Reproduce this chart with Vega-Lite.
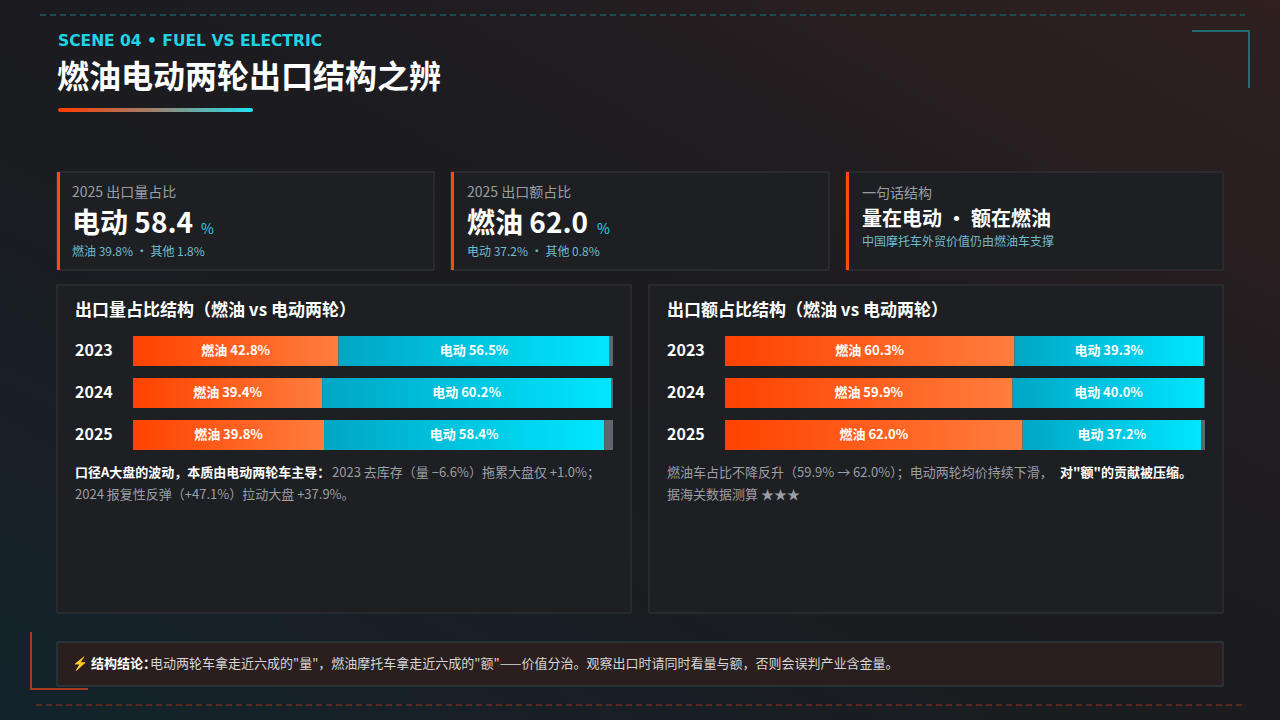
{
  "$schema": "https://vega.github.io/schema/vega-lite/v6.json",
  "width": 1280,
  "height": 720,
  "autosize": {"type": "fit", "contains": "padding"},
  "padding": 0,
  "background": "#1b1c20",
  "config": {"font": "Noto Sans CJK SC", "view": {"stroke": null}},
  "datasets": {
    "vol": [
      {"year": "2023", "type": "燃油", "value": 42.8, "label": "燃油 42.8%"},
      {"year": "2023", "type": "电动", "value": 56.5, "label": "电动 56.5%"},
      {"year": "2023", "type": "其他", "value": 0.7, "label": ""},
      {"year": "2024", "type": "燃油", "value": 39.4, "label": "燃油 39.4%"},
      {"year": "2024", "type": "电动", "value": 60.2, "label": "电动 60.2%"},
      {"year": "2024", "type": "其他", "value": 0.4, "label": ""},
      {"year": "2025", "type": "燃油", "value": 39.8, "label": "燃油 39.8%"},
      {"year": "2025", "type": "电动", "value": 58.4, "label": "电动 58.4%"},
      {"year": "2025", "type": "其他", "value": 1.8, "label": ""}
    ],
    "val": [
      {"year": "2023", "type": "燃油", "value": 60.3, "label": "燃油 60.3%"},
      {"year": "2023", "type": "电动", "value": 39.3, "label": "电动 39.3%"},
      {"year": "2023", "type": "其他", "value": 0.4, "label": ""},
      {"year": "2024", "type": "燃油", "value": 59.9, "label": "燃油 59.9%"},
      {"year": "2024", "type": "电动", "value": 40.0, "label": "电动 40.0%"},
      {"year": "2024", "type": "其他", "value": 0.1, "label": ""},
      {"year": "2025", "type": "燃油", "value": 62.0, "label": "燃油 62.0%"},
      {"year": "2025", "type": "电动", "value": 37.2, "label": "电动 37.2%"},
      {"year": "2025", "type": "其他", "value": 0.8, "label": ""}
    ]
  },
  "data": {"values": [{}]},
  "resolve": {"scale": {"x": "independent", "y": "independent"}},
  "layer": [
    {
      "mark": {"type": "rect", "x": 0, "x2": 1280, "y": 0, "y2": 720,
        "fill": {"gradient": "linear", "x1": 0, "y1": 1, "x2": 1, "y2": 0,
          "stops": [{"offset": 0, "color": "#13232b"}, {"offset": 0.42, "color": "#1b1c20"}, {"offset": 0.62, "color": "#1d1c20"}, {"offset": 1, "color": "#302020"}]}},
      "encoding": {}
    },
    {"mark": {"type": "rule", "stroke": "#1c5a62", "strokeWidth": 1.5, "strokeDash": [6, 4]},
     "encoding": {"x": {"value": 40}, "x2": {"value": 1245}, "y": {"value": 15}}},
    {"mark": {"type": "rule", "stroke": "#1f6c75", "strokeWidth": 2},
     "encoding": {"x": {"value": 1192}, "x2": {"value": 1249}, "y": {"value": 31}}},
    {"mark": {"type": "rule", "stroke": "#1f6c75", "strokeWidth": 2},
     "encoding": {"x": {"value": 1249}, "y": {"value": 30}, "y2": {"value": 88}}},
    {"mark": {"type": "rule", "stroke": "#a33b1e", "strokeWidth": 2},
     "encoding": {"x": {"value": 31}, "y": {"value": 632}, "y2": {"value": 690}}},
    {"mark": {"type": "rule", "stroke": "#a33b1e", "strokeWidth": 2},
     "encoding": {"x": {"value": 30}, "x2": {"value": 88}, "y": {"value": 689}}},
    {"mark": {"type": "rule", "stroke": "#6e2c1f", "strokeWidth": 1.5, "strokeDash": [6, 4]},
     "encoding": {"x": {"value": 36}, "x2": {"value": 1245}, "y": {"value": 705}}},
    {"mark": {"type": "text", "text": "SCENE 04 • FUEL VS ELECTRIC", "x": 58, "y": 41, "align": "left", "baseline": "middle",
      "font": "DejaVu Sans", "fontSize": 15.5, "fontWeight": "bold", "fill": "#22d3e6"}},
    {"mark": {"type": "text", "text": "燃油电动两轮出口结构之辨", "x": 57, "y": 78, "align": "left", "baseline": "middle",
      "fontSize": 32, "fontWeight": "bold", "fill": "#ffffff"}},
    {"mark": {"type": "rect", "x": 58, "x2": 253, "y": 108, "y2": 112, "cornerRadius": 2,
      "fill": {"gradient": "linear", "x1": 0, "y1": 0, "x2": 1, "y2": 0,
        "stops": [{"offset": 0, "color": "#ff3b00"}, {"offset": 0.5, "color": "#9c8370"}, {"offset": 1, "color": "#1fe3f3"}]}},
     "encoding": {}},

    {"mark": {"type": "rect", "x": 57, "x2": 434, "y": 172, "y2": 270, "fill": "#1e1f23", "stroke": "#36373c", "strokeWidth": 1}, "encoding": {}},
    {"mark": {"type": "rect", "x": 57, "x2": 60, "y": 172, "y2": 270, "fill": "#ff4a10"}, "encoding": {}},
    {"mark": {"type": "text", "text": "2025 出口量占比", "x": 72, "y": 193, "align": "left", "baseline": "middle", "fontSize": 14, "fill": "#9a9da4"}},
    {"mark": {"type": "text", "text": "电动 58.4", "x": 72, "y": 225, "align": "left", "baseline": "middle", "fontSize": 28, "fontWeight": "bold", "fill": "#ffffff"}},
    {"mark": {"type": "text", "text": "%", "x": 201, "y": 230, "align": "left", "baseline": "middle", "fontSize": 14, "fill": "#22d3e6"}},
    {"mark": {"type": "text", "text": "燃油 39.8%  ·  其他 1.8%", "x": 72, "y": 252, "align": "left", "baseline": "middle", "fontSize": 12, "fill": "#72bccc"}},

    {"mark": {"type": "rect", "x": 451, "x2": 829, "y": 172, "y2": 270, "fill": "#1e1f23", "stroke": "#36373c", "strokeWidth": 1}, "encoding": {}},
    {"mark": {"type": "rect", "x": 451, "x2": 454, "y": 172, "y2": 270, "fill": "#ff4a10"}, "encoding": {}},
    {"mark": {"type": "text", "text": "2025 出口额占比", "x": 467, "y": 193, "align": "left", "baseline": "middle", "fontSize": 14, "fill": "#9a9da4"}},
    {"mark": {"type": "text", "text": "燃油 62.0", "x": 467, "y": 225, "align": "left", "baseline": "middle", "fontSize": 28, "fontWeight": "bold", "fill": "#ffffff"}},
    {"mark": {"type": "text", "text": "%", "x": 597, "y": 230, "align": "left", "baseline": "middle", "fontSize": 14, "fill": "#22d3e6"}},
    {"mark": {"type": "text", "text": "电动 37.2%  ·  其他 0.8%", "x": 467, "y": 252, "align": "left", "baseline": "middle", "fontSize": 12, "fill": "#72bccc"}},

    {"mark": {"type": "rect", "x": 846, "x2": 1223, "y": 172, "y2": 270, "fill": "#1e1f23", "stroke": "#36373c", "strokeWidth": 1}, "encoding": {}},
    {"mark": {"type": "rect", "x": 846, "x2": 849, "y": 172, "y2": 270, "fill": "#ff4a10"}, "encoding": {}},
    {"mark": {"type": "text", "text": "一句话结构", "x": 862, "y": 194, "align": "left", "baseline": "middle", "fontSize": 14, "fill": "#9a9da4"}},
    {"mark": {"type": "text", "text": "量在电动 · 额在燃油", "x": 862, "y": 220, "align": "left", "baseline": "middle", "fontSize": 20, "fontWeight": "bold", "fill": "#ffffff"}},
    {"mark": {"type": "text", "text": "中国摩托车外贸价值仍由燃油车支撑", "x": 862, "y": 242, "align": "left", "baseline": "middle", "fontSize": 12, "fill": "#72bccc"}},

    {"mark": {"type": "rect", "x": 57, "x2": 631, "y": 285, "y2": 613, "fill": "#1e1f23", "stroke": "#34363b", "strokeWidth": 1}, "encoding": {}},
    {"mark": {"type": "rect", "x": 649, "x2": 1223, "y": 285, "y2": 613, "fill": "#1e1f23", "stroke": "#34363b", "strokeWidth": 1}, "encoding": {}},
    {"mark": {"type": "text", "text": "出口量占比结构（燃油 vs 电动两轮）", "x": 75, "y": 311, "align": "left", "baseline": "middle", "fontSize": 17, "fontWeight": "bold", "fill": "#ffffff"}},
    {"mark": {"type": "text", "text": "出口额占比结构（燃油 vs 电动两轮）", "x": 667, "y": 311, "align": "left", "baseline": "middle", "fontSize": 17, "fontWeight": "bold", "fill": "#ffffff"}},
    {"mark": {"type": "text", "text": "口径A大盘的波动，本质由电动两轮车主导：", "x": 75, "y": 473, "align": "left", "baseline": "middle", "fontSize": 13, "fontWeight": "bold", "fill": "#ffffff"}},
    {"mark": {"type": "text", "text": "2023 去库存（量 −6.6%）拖累大盘仅 +1.0%；", "x": 332, "y": 473, "align": "left", "baseline": "middle", "fontSize": 13, "fill": "#9b9ea5"}},
    {"mark": {"type": "text", "text": "2024 报复性反弹（+47.1%）拉动大盘 +37.9%。", "x": 75, "y": 495, "align": "left", "baseline": "middle", "fontSize": 13, "fill": "#9b9ea5"}},
    {"mark": {"type": "text", "text": "燃油车占比不降反升（59.9% → 62.0%）；电动两轮均价持续下滑，", "x": 667, "y": 473, "align": "left", "baseline": "middle", "fontSize": 13, "fill": "#9b9ea5"}},
    {"mark": {"type": "text", "text": "对\"额\"的贡献被压缩。", "x": 1060, "y": 473, "align": "left", "baseline": "middle", "fontSize": 13, "fontWeight": "bold", "fill": "#ffffff"}},
    {"mark": {"type": "text", "text": "据海关数据测算 ★★★", "x": 667, "y": 495, "align": "left", "baseline": "middle", "fontSize": 13, "fill": "#9b9ea5"}},

    {
      "data": {"name": "vol"},
      "transform": [{"filter": {"field": "type", "equal": "燃油"}}],
      "mark": {"type": "text", "x": 75, "align": "left", "baseline": "middle", "fontSize": 16, "fontWeight": "bold", "fill": "#ffffff"},
      "encoding": {
        "y": {"field": "year", "type": "nominal", "scale": {"domain": ["2023", "2024", "2025"], "range": [330, 456], "paddingInner": 0.2857, "paddingOuter": 0.1428}, "axis": null},
        "text": {"field": "year"}
      }
    },
    {
      "data": {"name": "val"},
      "transform": [{"filter": {"field": "type", "equal": "燃油"}}],
      "mark": {"type": "text", "x": 667, "align": "left", "baseline": "middle", "fontSize": 16, "fontWeight": "bold", "fill": "#ffffff"},
      "encoding": {
        "y": {"field": "year", "type": "nominal", "scale": {"domain": ["2023", "2024", "2025"], "range": [330, 456], "paddingInner": 0.2857, "paddingOuter": 0.1428}, "axis": null},
        "text": {"field": "year"}
      }
    },

    {
      "data": {"name": "vol"},
      "transform": [{"stack": "value", "groupby": ["year"], "as": ["s0", "s1"]}, {"filter": {"field": "type", "equal": "燃油"}}],
      "mark": {"type": "bar", "fill": {"gradient": "linear", "x1": 0, "y1": 0, "x2": 1, "y2": 0, "stops": [{"offset": 0, "color": "#ff4200"}, {"offset": 1, "color": "#ff7d3d"}]}},
      "encoding": {
        "x": {"field": "s0", "type": "quantitative", "scale": {"domain": [0, 100], "range": [133, 613], "nice": false, "zero": false}, "axis": null},
        "x2": {"field": "s1"},
        "y": {"field": "year", "type": "nominal", "scale": {"domain": ["2023", "2024", "2025"], "range": [330, 456], "paddingInner": 0.2857, "paddingOuter": 0.1428}, "axis": null}
      }
    },
    {
      "data": {"name": "vol"},
      "transform": [{"stack": "value", "groupby": ["year"], "as": ["s0", "s1"]}, {"filter": {"field": "type", "equal": "电动"}}],
      "mark": {"type": "bar", "fill": {"gradient": "linear", "x1": 0, "y1": 0, "x2": 1, "y2": 0, "stops": [{"offset": 0, "color": "#00a6c4"}, {"offset": 1, "color": "#00e6ff"}]}},
      "encoding": {
        "x": {"field": "s0", "type": "quantitative", "scale": {"domain": [0, 100], "range": [133, 613], "nice": false, "zero": false}, "axis": null},
        "x2": {"field": "s1"},
        "y": {"field": "year", "type": "nominal", "scale": {"domain": ["2023", "2024", "2025"], "range": [330, 456], "paddingInner": 0.2857, "paddingOuter": 0.1428}, "axis": null}
      }
    },
    {
      "data": {"name": "vol"},
      "transform": [{"stack": "value", "groupby": ["year"], "as": ["s0", "s1"]}, {"filter": {"field": "type", "equal": "其他"}}],
      "mark": {"type": "bar", "fill": "#62656b"},
      "encoding": {
        "x": {"field": "s0", "type": "quantitative", "scale": {"domain": [0, 100], "range": [133, 613], "nice": false, "zero": false}, "axis": null},
        "x2": {"field": "s1"},
        "y": {"field": "year", "type": "nominal", "scale": {"domain": ["2023", "2024", "2025"], "range": [330, 456], "paddingInner": 0.2857, "paddingOuter": 0.1428}, "axis": null}
      }
    },
    {
      "data": {"name": "vol"},
      "transform": [{"stack": "value", "groupby": ["year"], "as": ["s0", "s1"]}, {"filter": {"field": "type", "oneOf": ["燃油", "电动"]}}, {"fold": ["s0", "s1"], "as": ["edge", "pos"]}],
      "mark": {"type": "text", "align": "center", "baseline": "middle", "fontSize": 13, "fontWeight": "bold", "fill": "#ffffff"},
      "encoding": {
        "x": {"aggregate": "mean", "field": "pos", "type": "quantitative", "scale": {"domain": [0, 100], "range": [133, 613], "nice": false, "zero": false}, "axis": null},
        "y": {"field": "year", "type": "nominal", "scale": {"domain": ["2023", "2024", "2025"], "range": [330, 456], "paddingInner": 0.2857, "paddingOuter": 0.1428}, "axis": null},
        "text": {"field": "label"}
      }
    },

    {
      "data": {"name": "val"},
      "transform": [{"stack": "value", "groupby": ["year"], "as": ["s0", "s1"]}, {"filter": {"field": "type", "equal": "燃油"}}],
      "mark": {"type": "bar", "fill": {"gradient": "linear", "x1": 0, "y1": 0, "x2": 1, "y2": 0, "stops": [{"offset": 0, "color": "#ff4200"}, {"offset": 1, "color": "#ff7d3d"}]}},
      "encoding": {
        "x": {"field": "s0", "type": "quantitative", "scale": {"domain": [0, 100], "range": [725, 1205], "nice": false, "zero": false}, "axis": null},
        "x2": {"field": "s1"},
        "y": {"field": "year", "type": "nominal", "scale": {"domain": ["2023", "2024", "2025"], "range": [330, 456], "paddingInner": 0.2857, "paddingOuter": 0.1428}, "axis": null}
      }
    },
    {
      "data": {"name": "val"},
      "transform": [{"stack": "value", "groupby": ["year"], "as": ["s0", "s1"]}, {"filter": {"field": "type", "equal": "电动"}}],
      "mark": {"type": "bar", "fill": {"gradient": "linear", "x1": 0, "y1": 0, "x2": 1, "y2": 0, "stops": [{"offset": 0, "color": "#00a6c4"}, {"offset": 1, "color": "#00e6ff"}]}},
      "encoding": {
        "x": {"field": "s0", "type": "quantitative", "scale": {"domain": [0, 100], "range": [725, 1205], "nice": false, "zero": false}, "axis": null},
        "x2": {"field": "s1"},
        "y": {"field": "year", "type": "nominal", "scale": {"domain": ["2023", "2024", "2025"], "range": [330, 456], "paddingInner": 0.2857, "paddingOuter": 0.1428}, "axis": null}
      }
    },
    {
      "data": {"name": "val"},
      "transform": [{"stack": "value", "groupby": ["year"], "as": ["s0", "s1"]}, {"filter": {"field": "type", "equal": "其他"}}],
      "mark": {"type": "bar", "fill": "#62656b"},
      "encoding": {
        "x": {"field": "s0", "type": "quantitative", "scale": {"domain": [0, 100], "range": [725, 1205], "nice": false, "zero": false}, "axis": null},
        "x2": {"field": "s1"},
        "y": {"field": "year", "type": "nominal", "scale": {"domain": ["2023", "2024", "2025"], "range": [330, 456], "paddingInner": 0.2857, "paddingOuter": 0.1428}, "axis": null}
      }
    },
    {
      "data": {"name": "val"},
      "transform": [{"stack": "value", "groupby": ["year"], "as": ["s0", "s1"]}, {"filter": {"field": "type", "oneOf": ["燃油", "电动"]}}, {"fold": ["s0", "s1"], "as": ["edge", "pos"]}],
      "mark": {"type": "text", "align": "center", "baseline": "middle", "fontSize": 13, "fontWeight": "bold", "fill": "#ffffff"},
      "encoding": {
        "x": {"aggregate": "mean", "field": "pos", "type": "quantitative", "scale": {"domain": [0, 100], "range": [725, 1205], "nice": false, "zero": false}, "axis": null},
        "y": {"field": "year", "type": "nominal", "scale": {"domain": ["2023", "2024", "2025"], "range": [330, 456], "paddingInner": 0.2857, "paddingOuter": 0.1428}, "axis": null},
        "text": {"field": "label"}
      }
    },

    {"mark": {"type": "rect", "x": 57, "x2": 1223, "y": 642, "y2": 686, "fill": "#2a1f1e", "stroke": "#2e4449", "strokeWidth": 1}, "encoding": {}},
    {"mark": {"type": "text", "text": "⚡ 结构结论：", "x": 72, "y": 664, "align": "left", "baseline": "middle", "fontSize": 13, "fontWeight": "bold", "fill": "#ffffff"}},
    {"mark": {"type": "text", "text": "电动两轮车拿走近六成的\"量\"，燃油摩托车拿走近六成的\"额\"——价值分治。观察出口时请同时看量与额，否则会误判产业含金量。", "x": 150, "y": 664, "align": "left", "baseline": "middle", "fontSize": 13, "fill": "#d6d6d6"}}
  ]
}
